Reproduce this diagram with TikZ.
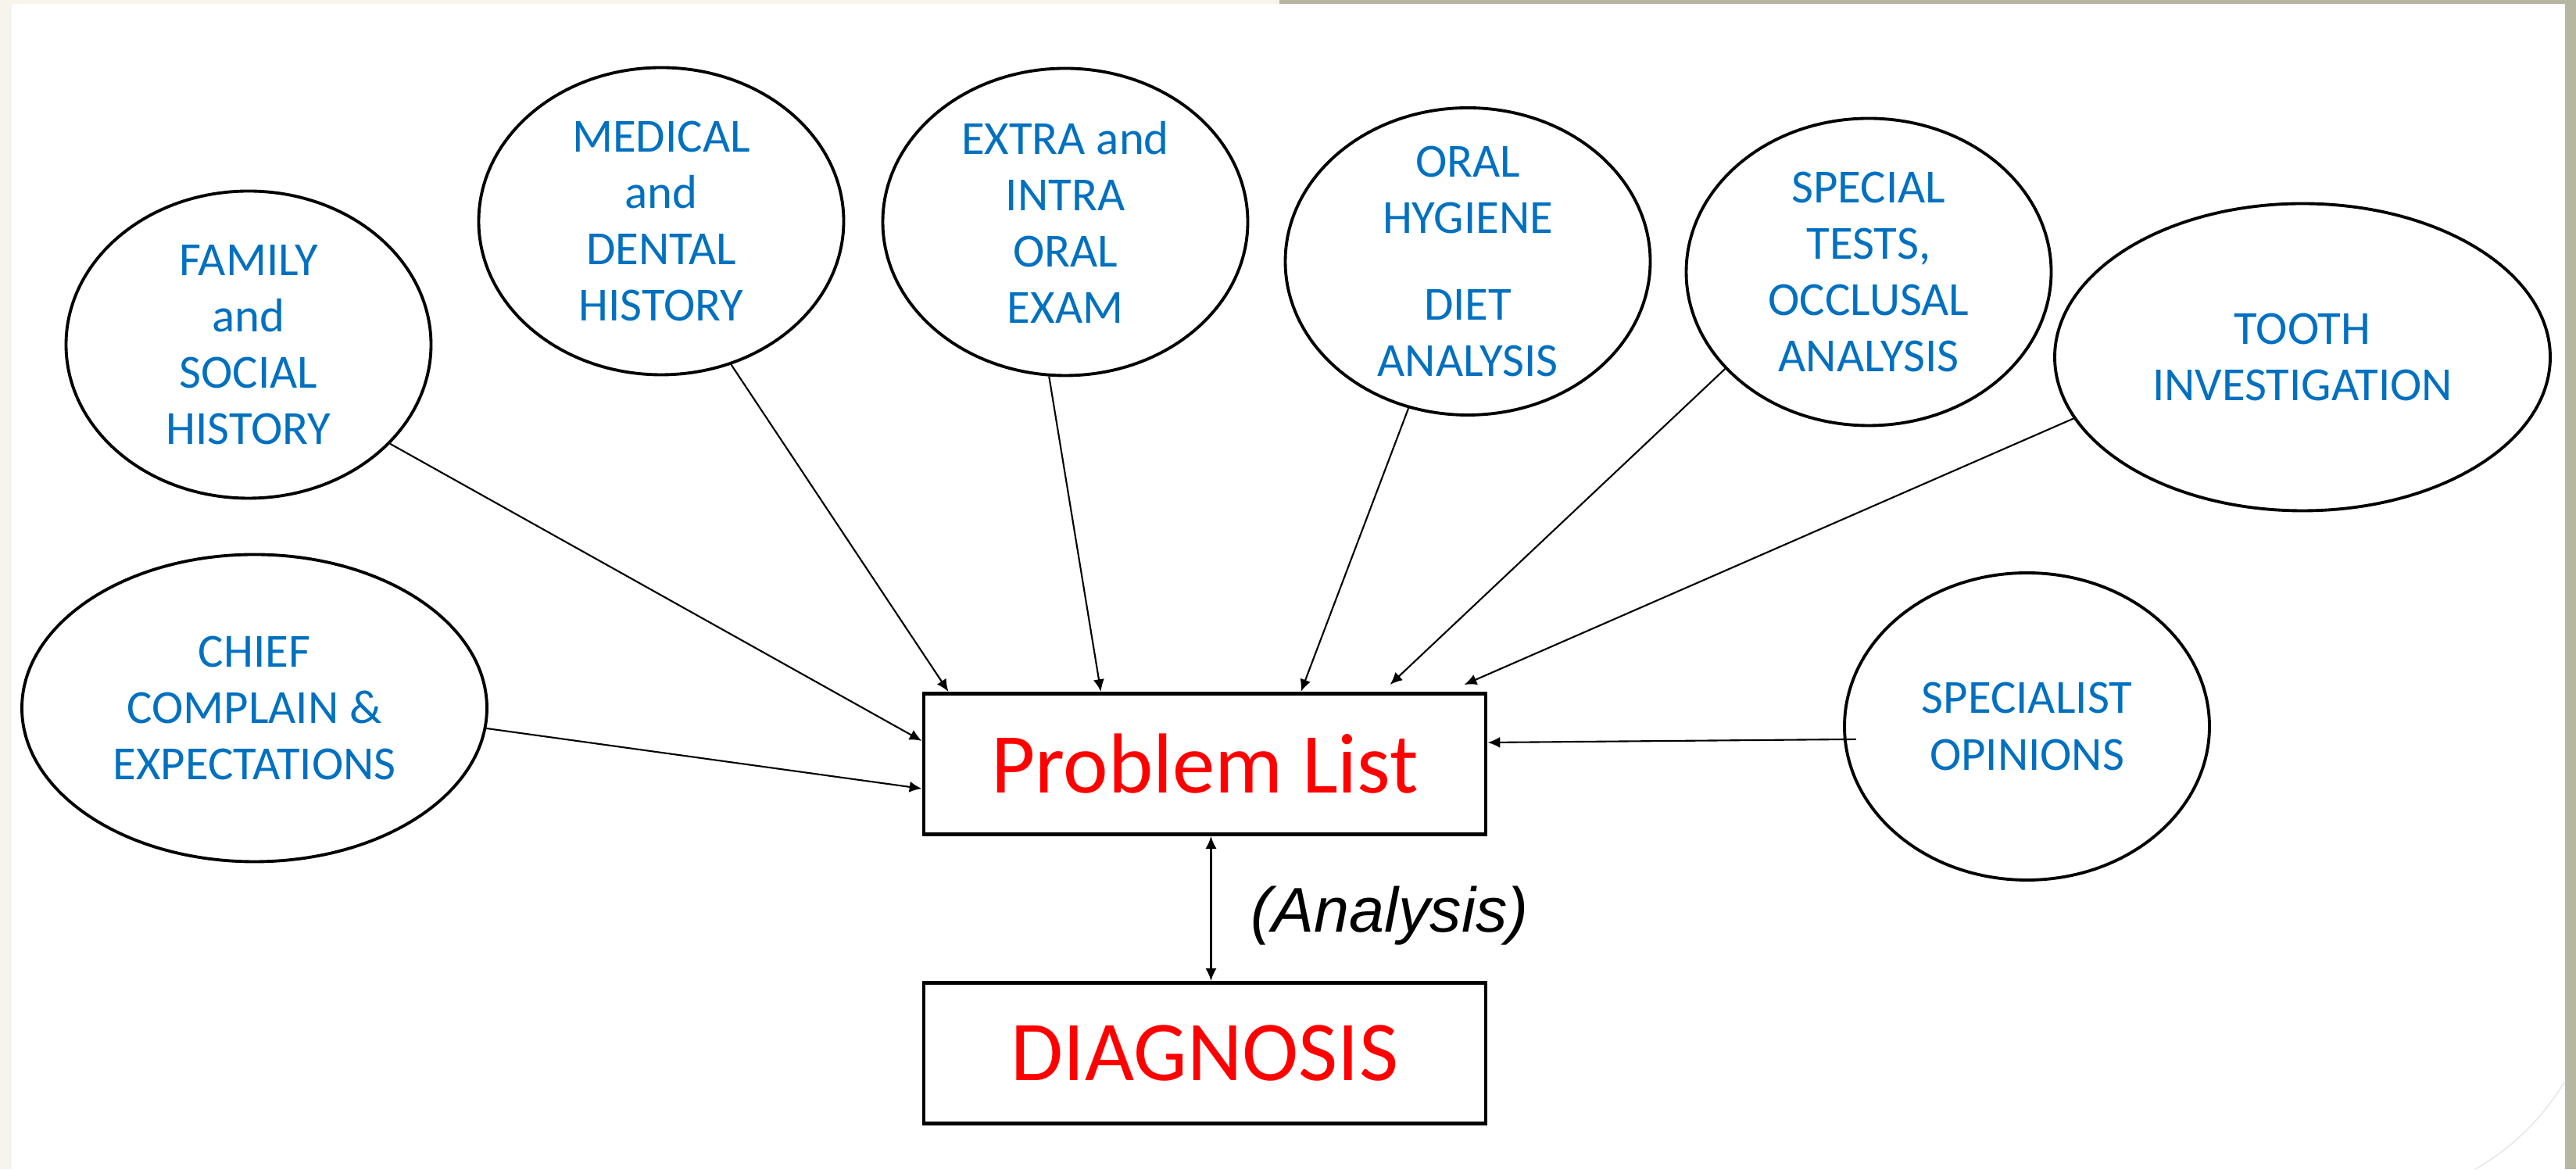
\documentclass[tikz,border=0pt]{standalone}
\usepackage{fontspec}
\setmainfont{Carlito}
\newfontfamily\arialfont{Liberation Sans}
\usepackage{tikz}
\usetikzlibrary{shapes.geometric, arrows.meta, positioning}
\definecolor{bubbleblue}{RGB}{0,112,192}
\definecolor{pagebeige}{RGB}{247,244,236}
\definecolor{pagegrey}{RGB}{183,182,162}

\begin{document}
\begin{tikzpicture}[
    bubble/.style={ellipse, draw, line width=1.1pt, inner sep=-3mm, minimum width=4.67cm,
        minimum height=3.93cm, text=bubbleblue, align=center, font=\fontsize{17.3}{20.5}\selectfont},
    box/.style={rectangle, draw, line width=1.4pt, minimum width=7.19cm, minimum height=1.8cm,
        text=red, font=\fontsize{31}{37}\selectfont},
    feed/.style={-{Latex[length=4.5pt,width=4pt]}, line width=0.6pt},
    both/.style={{Latex[length=4.5pt,width=4pt]}-{Latex[length=4.5pt,width=4pt]}, line width=0.6pt}
]
    % Slide background
    \fill[pagebeige] (0,0) rectangle (32.96,14.96);
    \fill[white] (0.15,0) rectangle (32.82,14.91);
    \fill[pagegrey] (16.37,14.91) rectangle (32.96,14.96);
    \fill[pagegrey] (32.82,0) rectangle (32.96,14.96);
    \draw[gray!20, line width=0.4pt] (32.82,1.13) .. controls (32.5,0.6) and (32.1,0.25) .. (31.67,0);

    % Sources of information
    \node[bubble] (fam) at (3.18,10.55) {FAMILY\\and\\SOCIAL\\HISTORY};
    \node[bubble] (med) at (8.46,12.13) {MEDICAL\\and\\DENTAL\\HISTORY};
    \node[bubble] (exam) at (13.63,12.12) {EXTRA and\\INTRA\\ORAL\\EXAM};
    \node[bubble] (oral) at (18.78,11.615) {ORAL\\HYGIENE\\[0.39cm]DIET\\ANALYSIS};
    \node[bubble] (tests) at (23.91,11.48) {SPECIAL\\TESTS,\\OCCLUSAL\\ANALYSIS};
    \node[bubble, minimum width=6.34cm] (tooth) at (29.46,10.39) {TOOTH\\INVESTIGATION};
    \node[bubble, minimum width=5.95cm] (chief) at (3.255,5.90) {CHIEF\\COMPLAIN \&\\EXPECTATIONS};
    \node[bubble] (opin) at (25.935,5.665) {SPECIALIST\\OPINIONS};

    % Problem list and diagnosis
    \node[box] (plist) at (15.415,5.185) {Problem List};
    \node[box, below=1.85cm of plist] (diag) {DIAGNOSIS};
    \node[font=\arialfont\itshape\fontsize{23}{28}\selectfont] (anal) at (17.78,3.24) {(Analysis)};

    % Arrows into the problem list
    \draw[feed] (fam.-35) -- ([yshift=-0.63cm]plist.north west);
    \draw[feed] (chief.-5) -- ([yshift=-1.24cm]plist.north west);
    \draw[feed] (med.-64) -- ([xshift=0.34cm]plist.north west);
    \draw[feed] (exam.-96) -- ([xshift=2.29cm]plist.north west);
    \draw[feed] (oral.-112) -- ([xshift=4.85cm]plist.north west);
    \draw[feed] (tests.-146) -- ([xshift=5.99cm,yshift=0.09cm]plist.north west);
    \draw[feed] (tooth.-165) -- ([xshift=6.94cm,yshift=0.09cm]plist.north west);
    \draw[feed] ([xshift=0.16cm]opin.184) -- ([yshift=-0.65cm]plist.north east);
    \draw[both] ([xshift=0.08cm]plist.south) -- ([xshift=0.08cm]diag.north);
\end{tikzpicture}
\end{document}
